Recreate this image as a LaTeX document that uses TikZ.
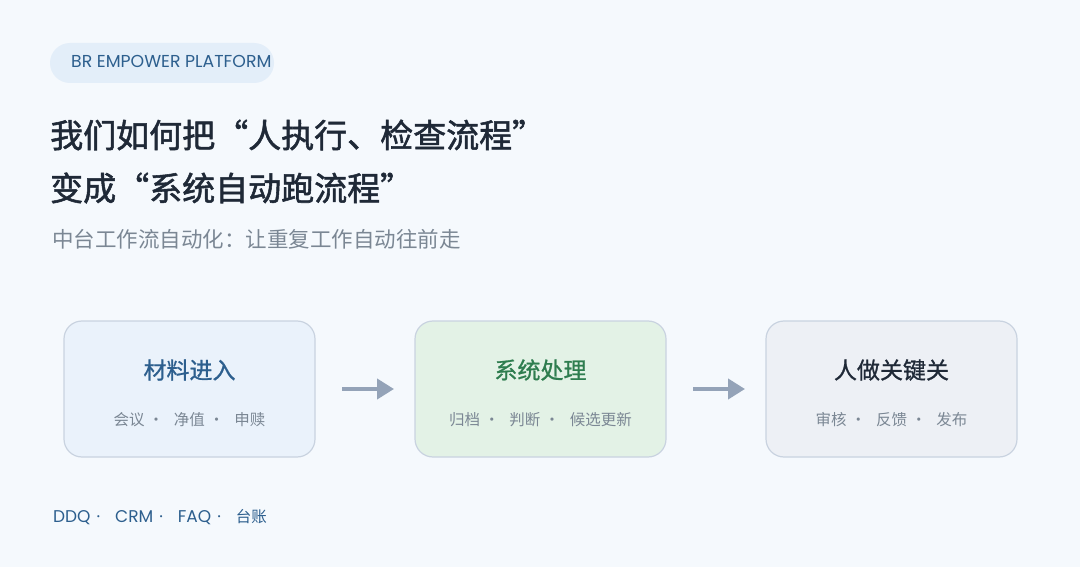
\documentclass[tikz,border=0pt]{standalone}
\usepackage{fontspec}
\setmainfont{Noto Sans CJK SC}
\newfontfamily\latinfont{Poppins}
\newfontfamily\headfont[FakeBold=1.6]{Noto Sans CJK SC}
\newfontfamily\semifont[FakeBold=1.0]{Noto Sans CJK SC}
\usetikzlibrary{arrows.meta}
\definecolor{bg}{HTML}{F5F9FD}
\definecolor{pillbg}{HTML}{E3EEF9}
\definecolor{navy}{HTML}{2D5F8E}
\definecolor{ink}{HTML}{1F2937}
\definecolor{mute}{HTML}{7B8794}
\definecolor{bordc}{HTML}{C9D3E0}
\definecolor{boxa}{HTML}{EAF2FB}
\definecolor{boxb}{HTML}{E3F2E6}
\definecolor{boxc}{HTML}{EDF0F5}
\definecolor{greenc}{HTML}{2E7D4F}
\definecolor{arrowc}{HTML}{94A3B8}
\newcommand{\fs}[1]{\fontsize{#1}{#1}\selectfont}
\newcommand{\sepdot}{\hspace{4pt}·\hspace{10pt}}
\newcommand{\footdot}{\hspace{6pt}·\hspace{15pt}}
\tikzset{
  x=1pt,y=-1pt,
  stagebox/.style={draw=bordc, line width=1.2pt, rounded corners=18pt, minimum width=251pt, minimum height=136pt, inner sep=0pt},
  stagetitle/.style={font=\semifont\fs{23}, anchor=center, inner sep=0pt},
  stagesub/.style={font=\fs{15.5}, text=mute, anchor=center, inner sep=0pt},
  flowarrow/.style={draw=arrowc, line width=4pt, -{Triangle[length=17pt,width=20pt]}},
}
\begin{document}
\begin{tikzpicture}
\fill[bg] (0,0) rectangle (1080,567);
\useasboundingbox (0,0) rectangle (1080,567);
% pill
\node[fill=pillbg, rounded corners=20pt, minimum width=224pt, minimum height=40pt, inner sep=0pt, anchor=center] (pill) at (162,63) {};
\node[font=\latinfont\fs{17.3}, text=navy, anchor=west, inner sep=0pt] (pilltext) at (71,61) {BR EMPOWER PLATFORM};
% titles
\node[font=\headfont\fs{33}, text=ink, anchor=west, inner sep=0pt] (t1) at (50,135) {我们如何把“人执行、检查流程”};
\node[font=\headfont\fs{33}, text=ink, anchor=west, inner sep=0pt] (t2) at (50,188) {变成“系统自动跑流程”};
\node[font=\fs{21.5}, text=mute, anchor=west, inner sep=0pt] (sub) at (52,239) {中台工作流自动化：让重复工作自动往前走};
% boxes
\node[stagebox, fill=boxa] (b1) at (189.5,389) {};
\node[stagebox, fill=boxb] (b2) at (540.5,389) {};
\node[stagebox, fill=boxc] (b3) at (891.5,389) {};
\node[stagetitle, text=navy] (b1t) at (189.5,370) {材料进入};
\node[stagetitle, text=greenc] (b2t) at (540.5,370) {系统处理};
\node[stagetitle, text=ink] (b3t) at (891.5,370) {人做关键关};
\node[stagesub] (b1s) at (189.5,420) {会议\sepdot 净值\sepdot 申赎};
\node[stagesub] (b2s) at (540.5,420) {归档\sepdot 判断\sepdot 候选更新};
\node[stagesub] (b3s) at (891.5,420) {审核\sepdot 反馈\sepdot 发布};
% arrows
\coordinate (a1s) at (342,389);
\coordinate (a1e) at (394,389);
\coordinate (a2s) at (693,389);
\coordinate (a2e) at (745,389);
\draw[flowarrow] (a1s) -- (a1e);
\draw[flowarrow] (a2s) -- (a2e);
% footer
\node[font=\fs{15.5}, text=navy, anchor=west, inner sep=0pt] (foot) at (53,517) {{\latinfont\fs{17}DDQ\footdot CRM\footdot FAQ\footdot}台账};
\end{tikzpicture}
\end{document}
